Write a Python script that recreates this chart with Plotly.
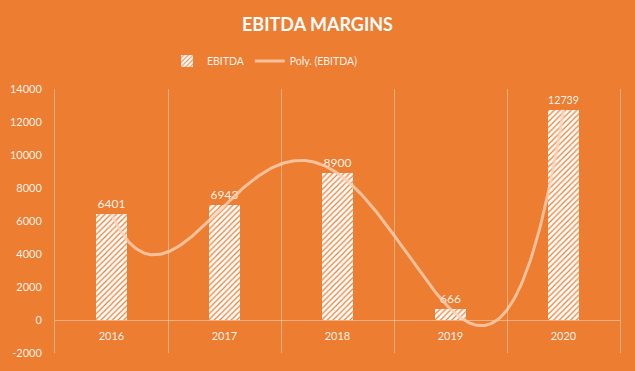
import numpy as np
import plotly.graph_objects as go

years = ["2016", "2017", "2018", "2019", "2020"]
ebitda = [6401, 6943, 8900, 666, 12739]
y_ticks = [-2000, 0, 2000, 4000, 6000, 8000, 10000, 12000, 14000]

BG = "#ED7D31"
TXT = "rgba(255,255,255,0.92)"
GRID = "rgba(255,255,255,0.38)"
FONT = "Lato"

xi = np.arange(len(years))
coef = np.polyfit(xi, ebitda, 4)
xs = np.linspace(0, len(years) - 1, 300)
ys = np.polyval(coef, xs)

fig = go.Figure()
fig.add_trace(go.Bar(
    x=xi, y=ebitda, name="EBITDA",
    width=0.275,
    marker=dict(color="white", line=dict(width=0),
                pattern=dict(shape="/", size=4, solidity=0.3, fillmode="overlay",
                             fgcolor=BG, fgopacity=1)),
    text=[str(v) for v in ebitda], textposition="outside",
    textfont=dict(family=FONT, size=12, color=TXT),
    cliponaxis=False,
))
fig.add_trace(go.Scatter(
    x=xs, y=ys, mode="lines", name="Poly. (EBITDA)",
    line=dict(color="rgba(250,210,182,0.8)", width=3),
    hoverinfo="skip",
))

fig.update_layout(
    width=635, height=371,
    paper_bgcolor=BG, plot_bgcolor=BG,
    margin=dict(l=55, r=15, t=89, b=18, autoexpand=False),
    title=dict(text="<b>EBITDA MARGINS</b>", x=0.5, xanchor="center",
               y=1 - 25 / 371, yanchor="middle",
               font=dict(family=FONT, size=18, color="white")),
    legend=dict(orientation="h", x=265 / 635, xanchor="center", xref="container",
                y=1 - 61 / 371, yanchor="middle", yref="container",
                font=dict(family=FONT, size=10.5, color=TXT),
                bgcolor="rgba(0,0,0,0)", traceorder="normal"),
    font=dict(family=FONT, color=TXT),
    showlegend=True,
    bargap=0,
)
fig.update_xaxes(
    type="linear", range=[-0.5, len(years) - 0.5],
    tickvals=list(xi), ticktext=years, ticks="",
    tickfont=dict(family=FONT, size=11, color=TXT),
    showgrid=False, zeroline=False, showline=False,
    anchor="free", position=2000 / 16000, ticklabelstandoff=8,
    minor=dict(tickvals=[i - 0.5 for i in range(len(years) + 1)],
               showgrid=True, gridcolor=GRID, gridwidth=1, ticks=""),
)
fig.update_yaxes(
    range=[-2000, 14000], tickvals=y_ticks, ticktext=[str(v) for v in y_ticks],
    tickfont=dict(family=FONT, size=11, color=TXT),
    showgrid=False, zeroline=True, zerolinecolor=GRID, zerolinewidth=1,
    showline=True, linecolor=GRID, linewidth=1, mirror=True,
    ticks="", ticklabelstandoff=10,
)

fig.write_html(
    "out.html",
    config={"displayModeBar": False},
    post_script="document.body.style.margin='0';document.body.style.background='%s';" % BG,
)
